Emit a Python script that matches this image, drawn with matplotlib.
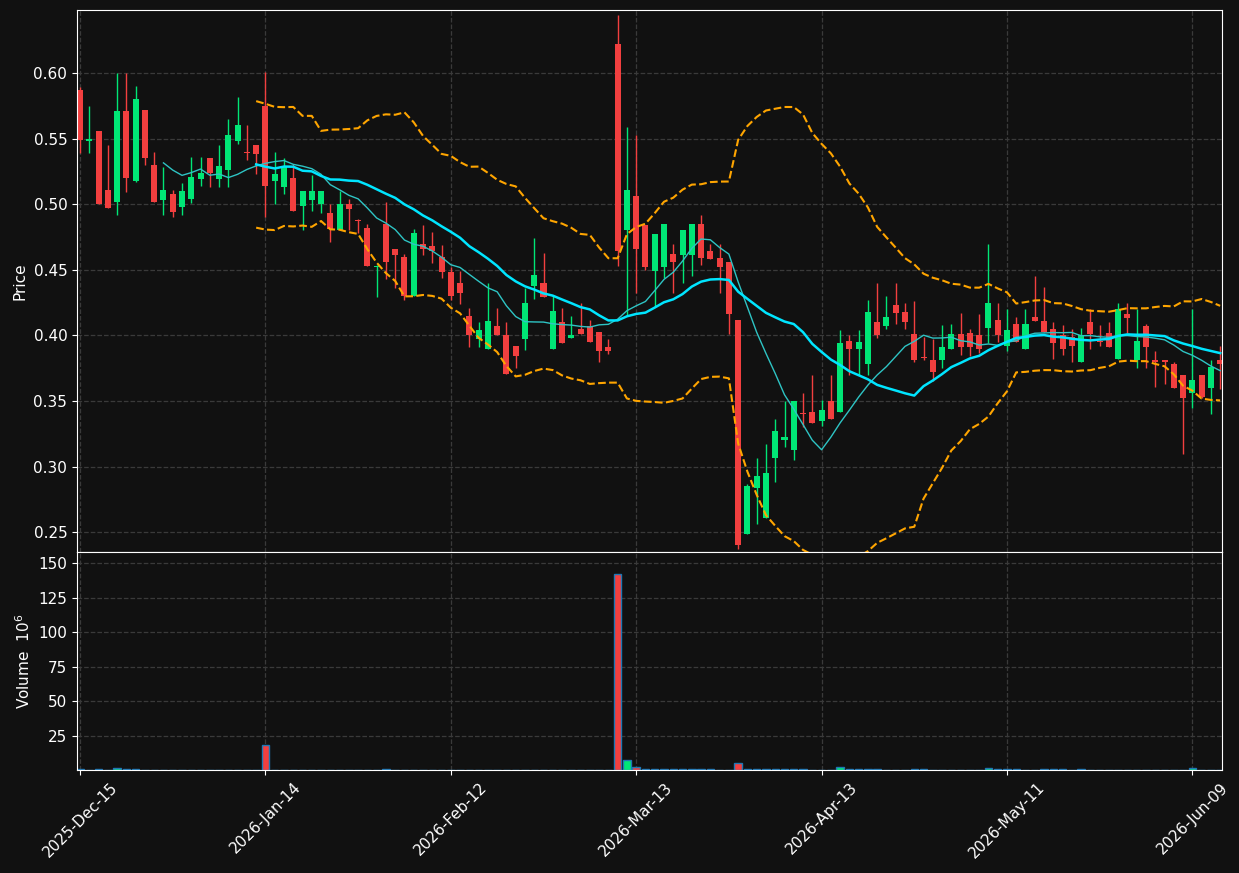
import numpy as np
import pandas as pd
import matplotlib
matplotlib.use("Agg")
import matplotlib.pyplot as plt
from pandas.tseries.holiday import USFederalHolidayCalendar

opens = [0.587,0.548,0.556,0.511,0.502,0.571,0.518,0.572,0.530,0.503,
         0.508,0.498,0.504,0.519,0.535,0.519,0.526,0.548,0.540,0.545,
         0.575,0.518,0.513,0.520,0.499,0.503,0.500,0.493,0.480,0.500,
         0.488,0.482,0.452,0.485,0.466,0.460,0.430,0.470,0.468,0.460,
         0.448,0.440,0.415,0.397,0.390,0.407,0.400,0.392,0.397,0.438,
         0.440,0.390,0.410,0.398,0.405,0.407,0.403,0.391,0.622,0.480,
         0.506,0.484,0.449,0.452,0.462,0.461,0.461,0.485,0.464,0.459,
         0.456,0.412,0.249,0.284,0.261,0.307,0.320,0.313,0.3405,0.342,
         0.335,0.350,0.342,0.396,0.390,0.378,0.410,0.407,0.423,0.418,
         0.401,0.3835,0.381,0.381,0.390,0.401,0.402,0.400,0.406,0.412,
         0.392,0.409,0.390,0.414,0.411,0.405,0.400,0.399,0.380,0.410,
         0.396,0.402,0.382,0.416,0.381,0.407,0.381,0.381,0.378,0.370,
         0.356,0.370,0.360,0.381]
highs = [0.589,0.575,0.556,0.545,0.600,0.600,0.590,0.572,0.540,0.528,
         0.511,0.516,0.536,0.536,0.535,0.545,0.565,0.582,0.560,0.545,
         0.601,0.540,0.535,0.531,0.510,0.522,0.510,0.500,0.510,0.504,
         0.489,0.485,0.454,0.502,0.466,0.462,0.481,0.484,0.479,0.469,
         0.452,0.449,0.421,0.410,0.440,0.421,0.410,0.392,0.436,0.474,
         0.463,0.431,0.421,0.415,0.425,0.412,0.403,0.397,0.644,0.559,
         0.553,0.484,0.477,0.485,0.470,0.480,0.485,0.492,0.470,0.470,
         0.456,0.412,0.287,0.307,0.317,0.336,0.350,0.350,0.356,0.370,
         0.351,0.370,0.404,0.400,0.404,0.427,0.440,0.430,0.440,0.425,
         0.426,0.399,0.397,0.408,0.409,0.417,0.405,0.416,0.470,0.425,
         0.420,0.414,0.420,0.445,0.437,0.410,0.408,0.405,0.406,0.420,
         0.408,0.410,0.425,0.425,0.420,0.409,0.388,0.381,0.380,0.370,
         0.420,0.370,0.381,0.392]
lows = [0.539,0.539,0.500,0.497,0.492,0.509,0.517,0.530,0.502,0.492,
        0.490,0.492,0.501,0.514,0.513,0.513,0.513,0.546,0.534,0.523,
        0.490,0.500,0.508,0.495,0.480,0.495,0.493,0.471,0.480,0.480,
        0.478,0.453,0.429,0.443,0.436,0.427,0.430,0.461,0.455,0.444,
        0.427,0.424,0.391,0.391,0.390,0.400,0.371,0.375,0.389,0.428,
        0.429,0.390,0.394,0.398,0.401,0.395,0.380,0.386,0.453,0.415,
        0.432,0.450,0.422,0.444,0.432,0.440,0.445,0.454,0.458,0.432,
        0.401,0.237,0.249,0.256,0.261,0.288,0.315,0.305,0.330,0.333,
        0.331,0.336,0.342,0.370,0.370,0.370,0.398,0.405,0.409,0.405,
        0.380,0.381,0.365,0.375,0.390,0.385,0.384,0.387,0.394,0.395,
        0.388,0.395,0.390,0.411,0.403,0.382,0.385,0.380,0.380,0.390,
        0.392,0.391,0.382,0.402,0.375,0.375,0.361,0.363,0.360,0.310,
        0.345,0.352,0.340,0.359]
closes = [0.549,0.550,0.500,0.497,0.571,0.520,0.580,0.535,0.502,0.511,
          0.494,0.510,0.521,0.524,0.524,0.529,0.553,0.560,0.539,0.538,
          0.514,0.523,0.529,0.495,0.510,0.510,0.510,0.481,0.500,0.496,
          0.487,0.453,0.453,0.456,0.461,0.430,0.478,0.466,0.464,0.448,
          0.430,0.432,0.400,0.404,0.411,0.400,0.371,0.384,0.425,0.446,
          0.429,0.419,0.394,0.400,0.401,0.395,0.388,0.388,0.464,0.511,
          0.466,0.452,0.477,0.485,0.456,0.480,0.485,0.459,0.458,0.452,
          0.416,0.240,0.285,0.293,0.295,0.327,0.323,0.350,0.340,0.333,
          0.343,0.336,0.394,0.390,0.395,0.418,0.400,0.414,0.417,0.410,
          0.381,0.383,0.372,0.391,0.401,0.391,0.391,0.390,0.425,0.400,
          0.404,0.395,0.409,0.411,0.403,0.394,0.390,0.392,0.400,0.401,
          0.395,0.391,0.420,0.413,0.396,0.391,0.380,0.380,0.360,0.352,
          0.366,0.353,0.376,0.378]
volumes = [0.7,0.3,0.8,0.2,1.5,0.6,0.9,0.2,0.1,0.1,
           0.1,0.1,0.1,0.1,0.1,0.1,0.1,0.1,0.1,0.1,
           18.0,0.2,0.2,0.2,0.1,0.1,0.1,0.1,0.1,0.1,
           0.1,0.1,0.1,1.0,0.3,0.3,0.2,0.0,0.0,0.1,
           0.2,0.0,0.3,0.0,0.2,0.0,0.3,0.3,0.3,0.3,
           0.3,0.0,0.0,0.1,0.3,0.0,0.2,0.3,142.0,7.5,
           2.5,1.0,0.4,0.4,0.4,0.4,0.4,0.4,0.4,0.3,
           0.0,5.0,1.0,1.0,0.4,0.4,0.4,0.4,0.4,0.0,
           0.3,0.0,2.0,0.4,0.4,0.4,0.4,0.3,0.0,0.3,
           0.4,0.4,0.0,0.0,0.0,0.0,0.0,0.3,1.5,0.4,
           0.4,0.4,0.0,0.0,0.4,0.4,0.4,0.0,0.4,0.0,
           0.0,0.0,0.0,0.0,0.3,0.3,0.3,0.3,0.3,0.0,
           1.5,0.3,0.3,0.3]

cal = USFederalHolidayCalendar()
hol = list(cal.holidays("2025-12-01", "2026-07-01"))
hol = [h for h in hol if h.month not in (10, 11)] + [pd.Timestamp("2026-04-03")]
cbd = pd.offsets.CustomBusinessDay(holidays=hol)
dates = pd.date_range("2025-12-15", periods=len(closes), freq=cbd)

BG = "#111111"
UP = "#00e676"
DN = "#f23f3f"
n = len(closes)
x = np.arange(n)
c = pd.Series(closes)
ma10 = c.rolling(10).mean()
ma20 = c.rolling(20).mean()
sd = c.rolling(20).std(ddof=0)
up_b = ma20 + 2 * sd
lo_b = ma20 - 2 * sd

fig = plt.figure(figsize=(12.39, 8.73), dpi=100, facecolor=BG)
ax = fig.add_axes([77/1239, 1-552/873, 1145/1239, 542/873])
axv = fig.add_axes([77/1239, 1-770/873, 1145/1239, 218/873], sharex=ax)
for a in (ax, axv):
    a.set_facecolor(BG)
    for s in a.spines.values():
        s.set_color("white")
    a.tick_params(colors="white", labelsize=11)
    a.grid(True, color="#3a3a3a", linestyle="--", linewidth=0.9)
    a.set_axisbelow(True)

for i in range(n):
    o, h, l, cl = opens[i], highs[i], lows[i], closes[i]
    col = UP if cl >= o else DN
    ax.vlines(i, l, h, color=col, linewidth=1)
    ax.bar(i, max(abs(cl - o), 0.0008), bottom=min(o, cl), width=0.65, color=col, linewidth=0)
    axv.bar(i, volumes[i], width=0.8, color=col, edgecolor="#1f77b4", linewidth=1)

ax.plot(x, ma10, color="#2ec4c4", linewidth=1)
ax.plot(x, ma20, color="#00e5ff", linewidth=1.8)
ax.plot(x, up_b, color="orange", linestyle="--", linewidth=1.5)
ax.plot(x, lo_b, color="orange", linestyle="--", linewidth=1.5)

ax.set_xlim(-0.33, 123.2)
ax.set_ylim(0.235, 0.648)
ax.set_ylabel("Price", color="white", fontsize=11)
plt.setp(ax.get_xticklabels(), visible=False)
ax.tick_params(axis="x", length=0)

axv.set_ylim(0, 158)
axv.set_yticks([25, 50, 75, 100, 125, 150])
axv.set_ylabel("Volume  $10^6$", color="white", fontsize=11)
ticks = list(range(0, n, 20))
axv.set_xticks(ticks)
axv.set_xticklabels([dates[t].strftime("%Y-%b-%d") for t in ticks], rotation=45, ha="center")

fig.savefig("out.png", dpi=100, facecolor=BG)
